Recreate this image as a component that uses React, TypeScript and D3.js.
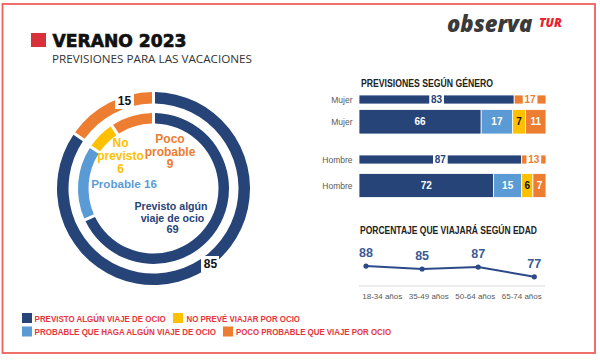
import React from 'react';
import * as d3 from 'd3';

// ---------- DATA ----------
const donutCategories = [
  'Previsto algún viaje de ocio',
  'Probable que haga algún viaje de ocio',
  'No prevé viajar por ocio',
  'Poco probable que viaje por ocio',
];
const outerValues = [85, 15]; // previsto vs. no previsto
const innerValues = [69, 16, 6, 9];

const genderLabels = ['Mujer', 'Mujer', 'Hombre', 'Hombre'];
const mujerSummary = [83, 17];
const mujerDetail = [66, 17, 7, 11];
const hombreSummary = [87, 13];
const hombreDetail = [72, 15, 6, 7];

const ageGroups = ['18-34 años', '35-49 años', '50-64 años', '65-74 años'];
const ageValues = [88, 85, 87, 77];

const legendLabels = [
  'PREVISTO ALGÚN VIAJE DE OCIO',
  'NO PREVÉ VIAJAR POR OCIO',
  'PROBABLE QUE HAGA ALGÚN VIAJE DE OCIO',
  'POCO PROBABLE QUE VIAJE POR OCIO',
];

// ---------- STYLE ----------
const C_DARK = '#264478';
const C_LIGHT = '#5b9bd5';
const C_YELLOW = '#ffc000';
const C_ORANGE = '#ed7d31';
const detailColors = [C_DARK, C_LIGHT, C_YELLOW, C_ORANGE];
const summaryColors = [C_DARK, C_ORANGE];
const FONT = 'Liberation Sans, Arial, sans-serif';
const RED = '#e8353d';

export default function App() {
  // ----- donut -----
  const cx = 153.5;
  const cy = 188.5;
  const pie = d3.pie<number>().sort(null).value((d) => d).padAngle(0.03);
  const outerArcs = pie(outerValues);
  const innerArcs = pie(innerValues);
  const outerArc = d3.arc<d3.PieArcDatum<number>>().innerRadius(85).outerRadius(96.5).padRadius(100);
  const innerArc = d3.arc<d3.PieArcDatum<number>>().innerRadius(65).outerRadius(75.5).padRadius(100);
  const outerColors = [C_DARK, C_ORANGE];
  const innerColors = detailColors;

  // ----- bars -----
  const x = d3.scaleLinear().domain([0, 100]).range([359, 546]);
  const rows = [
    { vals: mujerSummary, colors: summaryColors, y: 95, h: 9, thin: true },
    { vals: mujerDetail, colors: detailColors, y: 109.5, h: 24.5, thin: false },
    { vals: hombreSummary, colors: summaryColors, y: 155, h: 9, thin: true },
    { vals: hombreDetail, colors: detailColors, y: 173.5, h: 24, thin: false },
  ];

  // ----- line -----
  const xp = d3.scalePoint<string>().domain(ageGroups).range([366, 534.3]);
  const xb = d3.scaleBand<string>().domain(ageGroups).range([359, 545]);
  const y = d3.scaleLinear().domain([70, 90]).range([283.6, 264.1]);
  const line = d3
    .line<number>()
    .x((_, i) => xp(ageGroups[i]) as number)
    .y((d) => y(d));

  return (
    <svg
      width={600}
      height={361}
      style={{ position: 'absolute', left: 0, top: 0, background: '#fff' }}
      fontFamily={FONT}
    >
      <rect x={0} y={0} width={600} height={361} fill="#fff" />
      {/* frame */}
      <rect x={2.5} y={4} width={592.5} height={349} fill="none" stroke="#f0605a" strokeWidth={1.8} />

      {/* title */}
      <rect x={31} y={33} width={15} height={14} fill="#d9303a" />
      <text x={52.5} y={46.7} fontFamily="DejaVu Sans, sans-serif" fontWeight={700} fontSize={18} fill="#111"
        stroke="#111" strokeWidth={0.7} textLength={134} lengthAdjust="spacingAndGlyphs">VERANO 2023</text>
      <text x={52} y={63.3} fontFamily="Open Sans, sans-serif" fontWeight={400} fontSize={11.3} fill="#333"
        textLength={200} lengthAdjust="spacingAndGlyphs">PREVISIONES PARA LAS VACACIONES</text>

      {/* logo */}
      <text x={447} y={32} fontFamily="Open Sans, sans-serif" fontWeight={800} fontStyle="italic" fontSize={22}
        fill="#3a3a3a">observa</text>
      <text x={539} y={27} fontFamily="Open Sans, sans-serif" fontWeight={800} fontStyle="italic" fontSize={12}
        fill="#e8222e">TUR</text>

      {/* donut */}
      <g transform={`translate(${cx},${cy})`}>
        {outerArcs.map((a, i) => (
          <path key={'o' + i} d={outerArc(a) as string} fill={outerColors[i]} />
        ))}
        {innerArcs.map((a, i) => (
          <path key={'i' + i} d={innerArc(a) as string} fill={innerColors[i]} />
        ))}
      </g>
      {/* outer value labels */}
      <rect x={115} y={92} width={19} height={17} fill="#fff" />
      <text x={124.5} y={105} textAnchor="middle" fontWeight={700} fontSize={12} fill="#111">{outerValues[1]}</text>
      <rect x={201} y={256} width={18} height={16} fill="#fff" />
      <text x={210.5} y={268.3} textAnchor="middle" fontWeight={700} fontSize={12} fill="#111">{outerValues[0]}</text>

      {/* inner labels */}
      <g fontWeight={700} fontSize={12} textAnchor="middle">
        <text x={170} y={143.3} fill={C_ORANGE}>Poco</text>
        <text x={170} y={155.8} fill={C_ORANGE}>probable</text>
        <text x={170} y={168.3} fill={C_ORANGE}>{innerValues[3]}</text>

        <text x={120.5} y={146.6} fill={C_YELLOW}>No</text>
        <text x={120.5} y={159.6} fill={C_YELLOW}>previsto</text>
        <text x={120.5} y={172.6} fill={C_YELLOW}>{innerValues[2]}</text>

        <text x={124} y={188} fill={C_LIGHT} fontSize={11.6}>Probable {innerValues[1]}</text>

        <text x={171} y={210.3} fill={C_DARK} fontSize={10.6}>Previsto algún</text>
        <text x={172.5} y={221.9} fill={C_DARK} fontSize={10.6}>viaje de ocio</text>
        <text x={172.5} y={233.3} fill={C_DARK} fontSize={11}>{innerValues[0]}</text>
      </g>

      {/* gender bars */}
      <text x={361} y={86.7} fontWeight={700} fontSize={10.5} fill="#222" textLength={132}
        lengthAdjust="spacingAndGlyphs">PREVISIONES SEGÚN GÉNERO</text>
      {rows.map((r, ri) => {
        const total = d3.sum(r.vals);
        const norm = r.vals.map((v) => (v / total) * 100);
        const starts = d3.cumsum([0, ...norm]);
        return (
          <g key={'row' + ri}>
            <text x={352.5} y={r.y + r.h / 2 + 3} textAnchor="end" fontSize={8.5} fill="#595959">
              {genderLabels[ri]}
            </text>
            {norm.map((v, i) => {
              const x0 = x(starts[i]);
              const x1 = x(starts[i] + v);
              return (
                <rect key={i} x={x0} y={r.y} width={x1 - x0} height={r.h} fill={r.colors[i]}
                  stroke="#fff" strokeWidth={0.8} />
              );
            })}
            {norm.map((v, i) => {
              const xm = (x(starts[i]) + x(starts[i] + v)) / 2;
              const label = String(r.vals[i]);
              if (r.thin) {
                const w = label.length * 5.6 + 3.5;
                return (
                  <g key={'l' + i}>
                    <rect x={xm - w / 2} y={r.y - 0.5} width={w} height={r.h + 1} fill="#fff" />
                    <text x={xm} y={r.y + r.h / 2 + 3.6} textAnchor="middle" fontWeight={700} fontSize={10}
                      fill={r.colors[i]}>{label}</text>
                  </g>
                );
              }
              return (
                <text key={'l' + i} x={xm} y={r.y + r.h / 2 + 3.6} textAnchor="middle" fontWeight={700}
                  fontSize={10} fill={r.colors[i] === C_YELLOW ? '#111' : '#fff'}>{label}</text>
              );
            })}
          </g>
        );
      })}

      {/* age line chart */}
      <text x={360} y={234} fontWeight={700} fontSize={10.5} fill="#222" textLength={177}
        lengthAdjust="spacingAndGlyphs">PORCENTAJE QUE VIAJARÁ SEGÚN EDAD</text>
      <line x1={359} x2={545} y1={286} y2={286} stroke="#d9d9d9" strokeWidth={1} />
      {ageGroups.map((g) => (
        <text key={g} x={(xb(g) as number) + xb.bandwidth() / 2} y={298.5} textAnchor="middle" fontSize={8}
          fill="#595959">{g}</text>
      ))}
      <path d={line(ageValues) as string} fill="none" stroke="#2c4a87" strokeWidth={2} />
      {ageValues.map((v, i) => (
        <g key={'p' + i}>
          <circle cx={xp(ageGroups[i]) as number} cy={y(v)} r={2.6} fill="#2c4a87" />
          <text x={xp(ageGroups[i]) as number} y={y(v) - 9} textAnchor="middle" fontWeight={700} fontSize={12.5}
            fill="#3a5a96">{v}</text>
        </g>
      ))}

      {/* legend */}
      {legendLabels.map((l, i) => {
        const pos = [
          { sx: 22, y: 313, tx: 34.6, w: 131 },
          { sx: 173, y: 313, tx: 186.5, w: 113.5 },
          { sx: 22, y: 326.5, tx: 34.6, w: 181.4 },
          { sx: 223, y: 326.5, tx: 236, w: 155 },
        ][i];
        const colorIdx = [0, 2, 1, 3][i];
        return (
          <g key={l}>
            <rect x={pos.sx} y={pos.y} width={10} height={10} fill={detailColors[colorIdx]} />
            <text x={pos.tx} y={pos.y + 8.6} fontWeight={700} fontSize={9.5} fill={RED} textLength={pos.w}
              lengthAdjust="spacingAndGlyphs">{l}</text>
          </g>
        );
      })}
    </svg>
  );
}
